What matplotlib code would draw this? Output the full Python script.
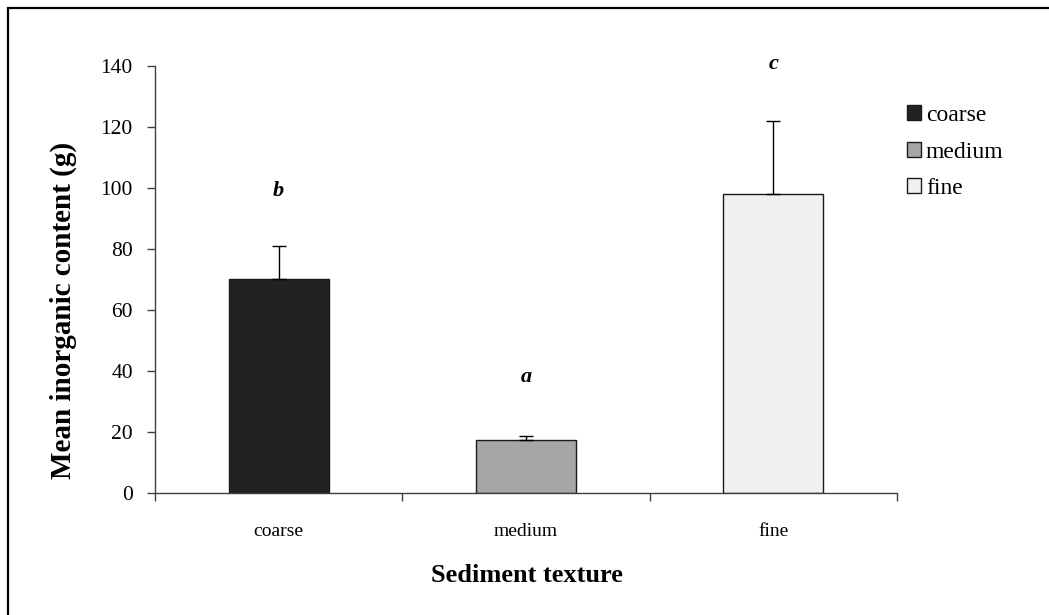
import matplotlib
matplotlib.use("Agg")
import matplotlib.pyplot as plt
from matplotlib.patches import Rectangle, Patch

categories = ["coarse", "medium", "fine"]
means = [70, 17.2, 98]
errors = [11, 1.5, 24]
letters = ["b", "a", "c"]
letter_y = [99, 38, 140.5]
colors = ["#222222", "#a6a6a6", "#f0f0f0"]
yticks = [0, 20, 40, 60, 80, 100, 120, 140]

W, H = 1049, 615
plt.rcParams['font.family'] = ['Liberation Serif', 'DejaVu Serif']
fig = plt.figure(figsize=(W / 100, H / 100), dpi=100)
ax = fig.add_axes([155 / W, 1 - 492.7 / H, (897 - 155) / W, (492.7 - 65.7) / H])

x = list(range(len(categories)))
ax.bar(x, means, width=0.404, color=colors, edgecolor="#1a1a1a", linewidth=1.0, zorder=2)
ax.errorbar(x, means, yerr=[[0] * 3, errors], fmt="none", ecolor="black",
            elinewidth=1.0, capsize=5, capthick=1.0, zorder=3)

for xi, lt, ly in zip(x, letters, letter_y):
    ax.text(xi, ly, lt, ha="center", va="center", fontsize=16,
            fontweight="bold", fontstyle="italic")

ax.set_xlim(-0.5, 2.5)
ax.set_ylim(0, 140)
ax.set_yticks(yticks)
ax.set_yticklabels([str(t) for t in yticks], fontsize=15.5)
ax.set_xticks([-0.5, 0.5, 1.5, 2.5])
ax.set_xticklabels([])
ax.set_xticks(x, minor=True)
ax.set_xticklabels(categories, minor=True, fontsize=14)
ax.tick_params(axis="x", which="minor", length=0, pad=22)
ax.tick_params(axis="x", which="major", length=6, width=1, color="#404040", direction="out")
ax.tick_params(axis="y", length=6, width=1, color="#404040", direction="out", pad=10)
for s in ["top", "right"]:
    ax.spines[s].set_visible(False)
for s in ["left", "bottom"]:
    ax.spines[s].set_color("#404040")
    ax.spines[s].set_linewidth(1.0)

fig.text(527 / W, 1 - 575 / H, "Sediment texture", ha="center", va="center",
         fontsize=19, fontweight="bold")
fig.text(63 / W, 1 - 310 / H, "Mean inorganic content (g)", ha="center", va="center",
         rotation=90, fontsize=21, fontweight="bold")

handles = [Patch(facecolor=c, edgecolor="#1a1a1a", linewidth=1.0, label=l)
           for c, l in zip(colors, categories)]
fig.legend(handles=handles, loc="upper left", bbox_to_anchor=(907 / W, 1 - 105 / H),
           frameon=False, fontsize=17, handlelength=0.6, handleheight=0.6,
           handletextpad=0.2, labelspacing=0.66, borderaxespad=0, borderpad=0)

fig.patches.append(Rectangle((8 / W, -0.1), 1.2, 1 - 8 / H + 0.1, transform=fig.transFigure,
                             fill=False, edgecolor="black", linewidth=1.6))

fig.savefig("out.png", dpi=100)
